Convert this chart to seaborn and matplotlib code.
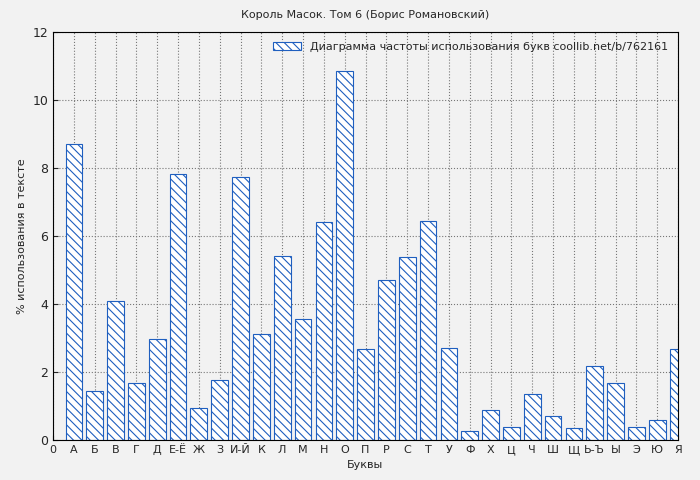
import matplotlib
matplotlib.use("Agg")
import matplotlib.pyplot as plt
import seaborn as sns
import numpy as np

letters = ["А","Б","В","Г","Д","Е-Ё","Ж","З","И-Й","К","Л","М","Н","О","П","Р","С","Т","У","Ф","Х","Ц","Ч","Ш","Щ","Ь-Ъ","Ы","Э","Ю","Я"]
values = [8.71,1.44,4.09,1.68,2.97,7.82,0.94,1.76,7.74,3.12,5.41,3.56,6.41,10.85,2.68,4.71,5.38,6.44,2.71,0.26,0.88,0.38,1.35,0.71,0.35,2.18,1.68,0.38,0.59,2.68]
tick_labels = ["0"] + letters

sns.set_style("ticks")
plt.rcParams['font.family'] = ['DejaVu Sans']
plt.rcParams['hatch.color'] = '#1f5fbf'
plt.rcParams['hatch.linewidth'] = 0.8
fig = plt.figure(figsize=(7, 4.8), dpi=100, facecolor='#f2f2f2')
ax = fig.add_axes([53/700, 40/480, 625/700, 408/480])
ax.set_facecolor('#f2f2f2')
pos = np.arange(1, len(values) + 1)
sns.barplot(x=pos, y=values, native_scale=True, width=0.8, color='white',
            edgecolor='#1f5fbf', linewidth=0.8, ax=ax, label='Диаграмма частоты использования букв coollib.net/b/762161')
for p in ax.patches:
    p.set_hatch('\\\\\\\\')
    p.set_facecolor('white')
ax.set_xlim(0, 30)
ax.set_ylim(0, 12)
ax.set_xticks(range(0, 31))
ax.set_xticklabels(tick_labels, fontsize=8)
ax.set_yticks(range(0, 13, 2))
ax.tick_params(axis='y', labelsize=9, direction='in')
ax.tick_params(axis='x', direction='in')
ax.grid(True, linestyle=':', color='#777777', linewidth=0.8)
ax.set_axisbelow(True)
for s in ax.spines.values():
    s.set_color('black')
ax.set_xlabel('Буквы', fontsize=8)
ax.set_ylabel('% использования в тексте', fontsize=8)
ax.set_title('Король Масок. Том 6 (Борис Романовский)', fontsize=8, pad=10)
leg = ax.legend(loc='upper right', fontsize=8, frameon=False, handlelength=2.5)
fig.savefig('out.png', dpi=100, facecolor='#f2f2f2')
